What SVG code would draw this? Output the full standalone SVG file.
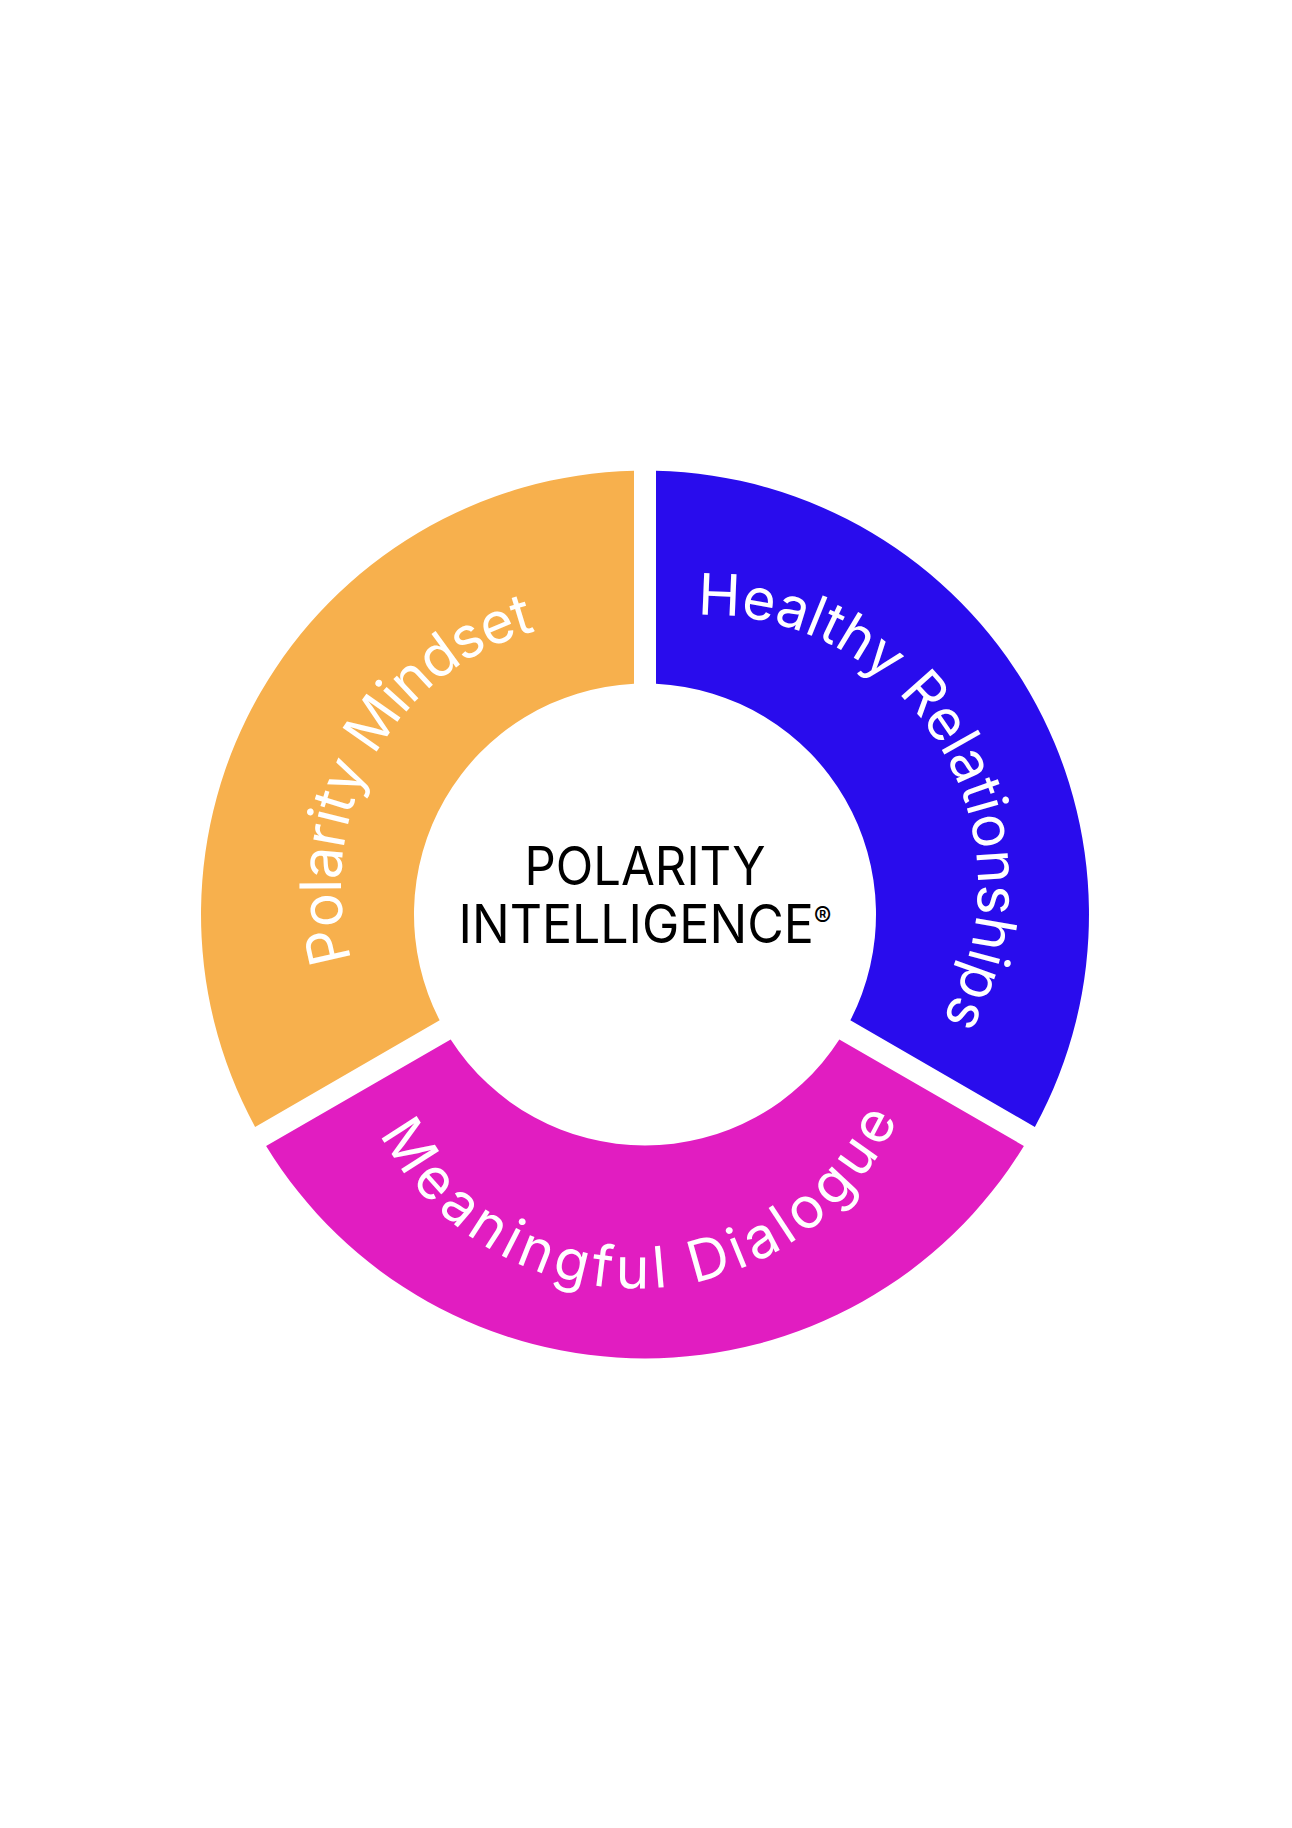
<svg xmlns="http://www.w3.org/2000/svg" width="1292" height="1828" viewBox="0 0 1292 1828">
  <style>
    .lbl { font-family: Inter, "Noto Sans", "Liberation Sans", sans-serif; font-size: 57px; fill: #FFFFFF; font-weight: 400; }
    .ctr { font-family: Inter, "Noto Sans", "Liberation Sans", sans-serif; font-size: 53px; fill: #000000; font-weight: 400; }
  </style>
  <defs>
    <path id="arcPolarity" d="M 351.9 959.9 A 263 263 0 0 1 539.9 629.9"/>
    <path id="arcHealthy" d="M 697.6 615.2 A 270 270 0 0 1 938.2 1026.1"/>
    <path id="arcMeaningful" d="M 380.0 1133.6 A 288 288 0 0 0 901.5 1110.6"/>
  </defs>
  <rect x="0" y="0" width="1292" height="1828" fill="#FFFFFF"/>
  <g id="connectors"/>
  <g id="node-polarity-mindset">
    <path d="M 634 470.64 A 444 444 0 0 0 255.11 1126.90 L 439.67 1020.34 A 231 231 0 0 1 634 683.76 Z" fill="#F7B04D"/>
    <text class="lbl"><textPath href="#arcPolarity" textLength="420" lengthAdjust="spacing">Polarity Mindset</textPath></text>
  </g>
  <g id="node-healthy-relationships">
    <path d="M 656 470.64 A 444 444 0 0 1 1034.89 1126.90 L 850.33 1020.34 A 231 231 0 0 0 656 683.76 Z" fill="#290CED"/>
    <text class="lbl"><textPath href="#arcHealthy" textLength="575" lengthAdjust="spacing">Healthy Relationships</textPath></text>
  </g>
  <g id="node-meaningful-dialogue">
    <path d="M 266.11 1145.96 A 444 444 0 0 0 1023.89 1145.96 L 839.33 1039.40 A 231 231 0 0 1 450.67 1039.40 Z" fill="#E11DC1"/>
    <text class="lbl"><textPath href="#arcMeaningful" textLength="644" lengthAdjust="spacing">Meaningful Dialogue</textPath></text>
  </g>
  <g id="node-center">
    <text class="ctr" x="645" y="885" text-anchor="middle" textLength="241" lengthAdjust="spacingAndGlyphs">POLARITY</text>
    <text class="ctr" x="645" y="942.7" text-anchor="middle" textLength="373" lengthAdjust="spacingAndGlyphs">INTELLIGENCE<tspan font-size="28" dy="-16">®</tspan></text>
  </g>
</svg>
